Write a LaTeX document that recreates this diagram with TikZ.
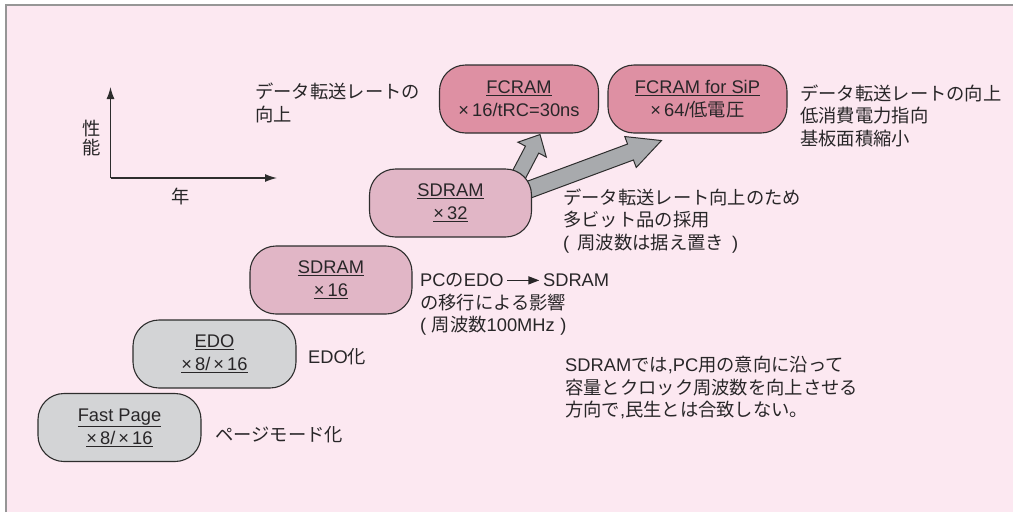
\documentclass[tikz,border=0pt]{standalone}
\usepackage{fontspec}
\setmainfont{Liberation Sans}
\newfontfamily\jp{Noto Sans CJK JP}
\usetikzlibrary{calc,arrows.meta}
\pgfdeclarelayer{bg}
\pgfsetlayers{bg,main}
\definecolor{bgpink}{RGB}{252,232,241}
\definecolor{framec}{RGB}{150,150,150}
\definecolor{grayfill}{RGB}{211,212,214}
\definecolor{sdfill}{RGB}{225,182,198}
\definecolor{fcfill}{RGB}{222,144,163}
\definecolor{arrfill}{RGB}{168,170,173}
\definecolor{edgec}{RGB}{45,45,45}
\definecolor{txt}{RGB}{40,38,40}
\newcommand\fatarrow[5]{%
  \coordinate (hb) at ($(#2)!#5!(#1)$);
  \filldraw[fatarr] ($(#1)!#3!90:(#2)$) -- ($(hb)!#3!90:(#2)$) -- ($(hb)!#4!90:(#2)$)
    -- (#2) -- ($(hb)!#4!-90:(#2)$) -- ($(hb)!#3!-90:(#2)$) -- ($(#1)!#3!-90:(#2)$) -- cycle;}
\tikzset{
  box/.style={draw=edgec, line width=1.1pt, rounded corners=26pt, minimum height=68pt,
    align=center, inner sep=0pt, text=txt, font=\fontsize{18.3}{23}\selectfont},
  graybox/.style={box, fill=grayfill, minimum width=163pt},
  sdbox/.style={box, fill=sdfill, minimum width=162pt},
  fcbox/.style={box, fill=fcfill},
  lbl/.style={anchor=west, align=left, inner sep=0pt, text=txt, font=\fontsize{18.3}{22.5}\selectfont},
  fatarr/.style={fill=arrfill, draw=edgec, line width=1pt, line join=miter},
  axis/.style={draw=edgec, line width=1.3pt, -{Latex[length=12pt,width=8pt]}}
}
\begin{document}
\begin{tikzpicture}[x=1pt,y=-1pt]
\useasboundingbox (0,0) rectangle (1013,512);
\begin{pgfonlayer}{bg}
\fill[white] (0,0) rectangle (1013,512);
\fill[bgpink] (6,5) rectangle (1013,512);
\draw[framec, line width=1.5pt] (6,512) -- (6,5) -- (1013,5);
\end{pgfonlayer}

% axes
\coordinate (org) at (110.5,178);
\coordinate (ytop) at (110.5,87);
\coordinate (xend) at (277,178);
\draw[axis] (org) -- (ytop);
\draw[axis] (org) -- (xend);
\node[lbl, anchor=center, align=center, font=\fontsize{18.3}{19}\selectfont] (perf) at (92,138) {{\jp 性}\\{\jp 能}};
\node[lbl, anchor=center] (year) at (181,197) {\jp 年};

% boxes
\node[graybox] (fp) at (119.5,427.5) {\underline{Fast Page}\\\underline{×\,8/\,×\,16}};
\node[graybox] (edo) at (214.5,354) {\underline{EDO}\\\underline{×\,8/\,×\,16}};
\node[sdbox] (sd16) at (331,280) {\underline{SDRAM}\\\underline{×\,16}};
\node[sdbox] (sd32) at (450.5,203) {\underline{SDRAM}\\\underline{×\,32}};
\node[fcbox, minimum width=159pt] (fc) at (519,99) {\underline{FCRAM}\\×\,16/tRC=30ns};
\node[fcbox, minimum width=179pt] (fcs) at (697.5,99) {\underline{FCRAM for SiP}\\×\,64/{\jp 低電圧}};

% fat arrows
\begin{pgfonlayer}{bg}
\coordinate (a1) at ($(sd32.north east)+(-14,8)$);
\coordinate (b1) at ($(fc.south)+(21,1)$);
\fatarrow{a1}{b1}{7.5pt}{16pt}{17pt}
\coordinate (a2) at ($(sd32.north east)+(-16,26)$);
\coordinate (b2) at ($(fcs.south west)+(54,7)$);
\fatarrow{a2}{b2}{8.5pt}{16.5pt}{33pt}
\end{pgfonlayer}

% labels
\node[lbl] (l1) at (255,103) {{\jp データ転送レートの}\\{\jp 向上}};
\node[lbl] (l2) at (800,115.5) {{\jp データ転送レートの向上}\\{\jp 低消費電力指向}\\{\jp 基板面積縮小}};
\node[lbl] (l3) at (563,221) {{\jp データ転送レート向上のため}\\{\jp 多ビット品の採用}\\(\kern0.45em{\jp 周波数は据え置き}\kern0.45em)};
\node[lbl] (l4) at (420,304.5) {PC{\jp の}EDO\kern3pt\tikz[baseline=0pt]\draw[draw=txt,line width=1.5pt,-{Triangle[length=11pt,width=8pt]}] (0pt,6.3pt)--(32pt,6.3pt);\kern3pt SDRAM\\{\jp の移行による影響}\\(\kern0.3em{\jp 周波数}100MHz\kern0.3em)};
\node[lbl] (l5) at (308,357) {EDO{\jp 化}};
\node[lbl] (l6) at (215,435) {\jp ページモード化};
\node[lbl] (l7) at (565,387.5) {SDRAM{\jp では},PC{\jp 用の意向に沿って}\\{\jp 容量とクロック周波数を向上させる}\\{\jp 方向で},{\jp 民生とは合致しない。}};
\end{tikzpicture}
\end{document}
